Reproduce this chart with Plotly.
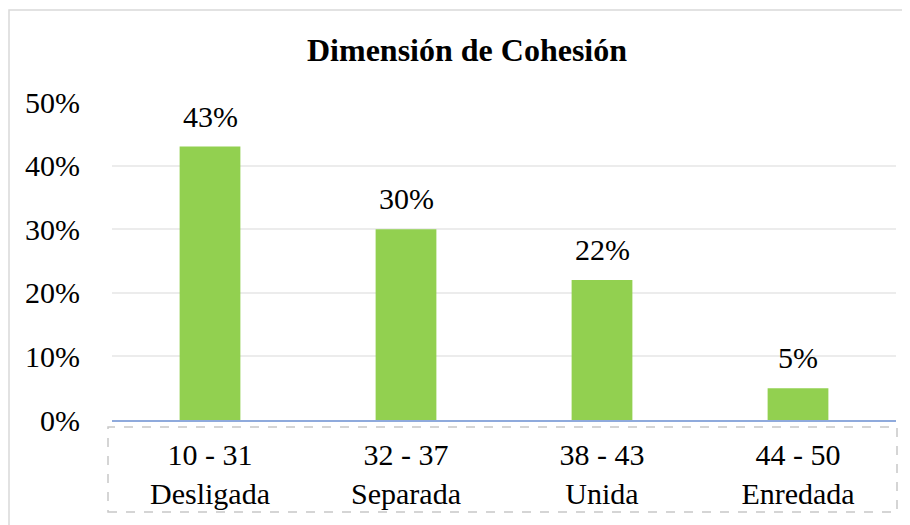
import plotly.graph_objects as go

categories = ["10 - 31<br>Desligada", "32 - 37<br>Separada", "38 - 43<br>Unida", "44 - 50<br>Enredada"]
values = [0.43, 0.30, 0.22, 0.05]
labels = ["43%", "30%", "22%", "5%"]
tick_vals = [0, 0.1, 0.2, 0.3, 0.4, 0.5]
tick_text = ["0%", "10%", "20%", "30%", "40%", "50%"]

FONT = "'Times New Roman', 'Liberation Serif', Times, serif"
FS = 30
OFF = 8  # page body margin
W, H = 910 - OFF, 525 - OFF
# plot area in page coordinates
PL, PR, PT, PB = 112, 896, 102, 420
L, T = PL - OFF, PT - OFF
R, B = W - (PR - OFF), H - (PB - OFF)
PW, PH = W - L - R, H - T - B


def px(xpage):
    return (xpage - OFF - L) / PW


def py(ypage):
    return (H - B - (ypage - OFF)) / PH


fig = go.Figure(go.Bar(x=categories, y=values, marker=dict(color="#92d050", line=dict(width=0)),
                       width=0.31, hoverinfo="skip"))

for c, v, t in zip(categories, values, labels):
    fig.add_annotation(x=c, y=v, text=t, showarrow=False, yanchor="bottom", yshift=12,
                       font=dict(family=FONT, size=FS, color="#000"))

# outer chart border
fig.add_shape(type="rect", xref="paper", yref="paper",
              x0=px(9), x1=px(930), y0=py(545), y1=py(10),
              line=dict(color="#d9d9d9", width=1.5), layer="below")
# dashed box around category labels
fig.add_shape(type="rect", xref="paper", yref="paper",
              x0=px(108), x1=px(897), y0=py(512), y1=py(427),
              line=dict(color="#c8c8c8", width=1.5, dash="dash"))

fig.update_layout(
    width=W, height=H,
    margin=dict(l=L, r=R, t=T, b=B),
    paper_bgcolor="white", plot_bgcolor="white",
    showlegend=False,
    font=dict(family=FONT, size=FS, color="#000"),
    title=dict(text="<b>Dimensión de Cohesión</b>", x=(467 - OFF) / W, xanchor="center",
               y=1 - (50 - OFF) / H, yanchor="middle", font=dict(family=FONT, size=32, color="#000")),
    xaxis=dict(showgrid=False, showline=True, linecolor="#8faadc", linewidth=2,
               ticks="outside", ticklen=7, tickcolor="rgba(0,0,0,0)",
               tickfont=dict(family=FONT, size=FS, color="#000")),
    yaxis=dict(range=[0, 0.5], tickvals=tick_vals, ticktext=tick_text, showgrid=True,
               gridcolor="#ececec", gridwidth=1.5, zeroline=False, showline=False,
               ticks="outside", ticklen=25, tickcolor="rgba(0,0,0,0)",
               tickfont=dict(family=FONT, size=FS, color="#000")),
)

fig.write_html("out.html")
